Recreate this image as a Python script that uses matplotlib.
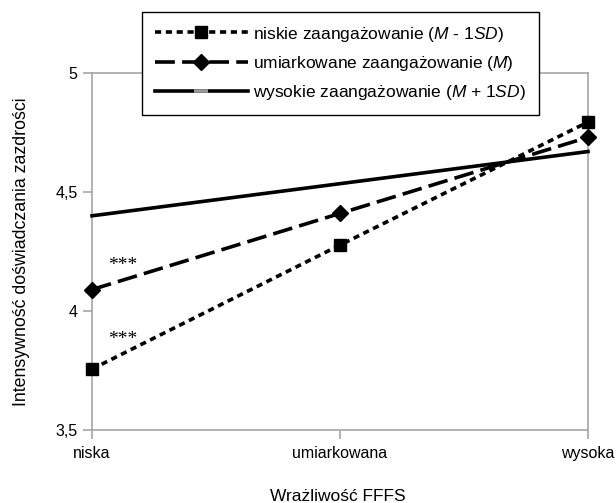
import matplotlib
matplotlib.use("Agg")
import matplotlib.pyplot as plt
import matplotlib.lines as mlines

plt.rcParams["font.family"] = ["Liberation Sans", "DejaVu Sans"]
plt.rcParams["mathtext.fontset"] = "custom"
plt.rcParams["mathtext.it"] = "Liberation Sans:italic"
plt.rcParams["mathtext.rm"] = "Liberation Sans"

GREY = "#a6a6a6"

categories = ["niska", "umiarkowana", "wysoka"]
niskie = [3.756, 4.277, 4.794]
umiarkowane = [4.09, 4.41, 4.73]
wysokie = [4.40, 4.535, 4.67]

labels = [
    r"niskie zaangażowanie ($\mathit{M}$ - 1$\mathit{SD}$)",
    r"umiarkowane zaangażowanie ($\mathit{M}$)",
    r"wysokie zaangażowanie ($\mathit{M}$ + 1$\mathit{SD}$)",
]
stars = [(0.065, 4.19), (0.065, 3.88)]

fig = plt.figure(figsize=(6.16, 5.03), dpi=100)
ax = fig.add_axes([92 / 616, 1 - 430 / 503, 496 / 616, 357 / 503])

x = list(range(len(categories)))
l1, = ax.plot(x, niskie, color="black", lw=2.6, dashes=(1.7, 1.3), marker="s",
              markersize=8.5, clip_on=False, zorder=4)
l2, = ax.plot(x, umiarkowane, color="black", lw=2.6, dashes=(5.5, 2.0), marker="D",
              markersize=8, clip_on=False, zorder=4)
l3, = ax.plot(x, wysokie, color="black", lw=2.6, clip_on=False, zorder=3)

for sx, sy in stars:
    ax.text(sx, sy, "***", fontsize=14, family="Liberation Serif", va="center")

ax.set_xlim(0, 2)
ax.set_ylim(3.5, 5)
ax.set_xticks(x)
ax.set_xticklabels(categories)
ax.set_yticks([3.5, 4, 4.5, 5])
ax.set_yticklabels(["3,5", "4", "4,5", "5"])
for s in ax.spines.values():
    s.set_color(GREY)
    s.set_linewidth(1.2)
ax.tick_params(colors=GREY, labelcolor="black", length=6.5, width=1.2,
               labelsize=11.5, pad=4)
ax.tick_params(axis="x", pad=5)

fig.text(22 / 616, 251 / 503, "Intensywność doświadczania zazdrości", fontsize=12.8,
         rotation=90, ha="center", va="center")
fig.text(338 / 616, 1 - 501 / 503, "Wrażliwość FFFS", fontsize=12.5,
         ha="center", va="baseline")

h3 = mlines.Line2D([], [], color="black", lw=2.6, marker="_", markersize=10,
                   markeredgecolor="#999999", markeredgewidth=2.6)
leg = ax.legend([l1, l2, h3], labels, loc="upper left",
                bbox_to_anchor=(142 / 616, 1 - 12 / 503), bbox_transform=fig.transFigure,
                borderaxespad=0, fontsize=12.5, handlelength=5.4, handletextpad=0.3,
                labelspacing=0.6, borderpad=0.72, fancybox=False, framealpha=1,
                edgecolor="black")
leg.get_frame().set_linewidth(1.0)

fig.savefig("out.png", dpi=100)
